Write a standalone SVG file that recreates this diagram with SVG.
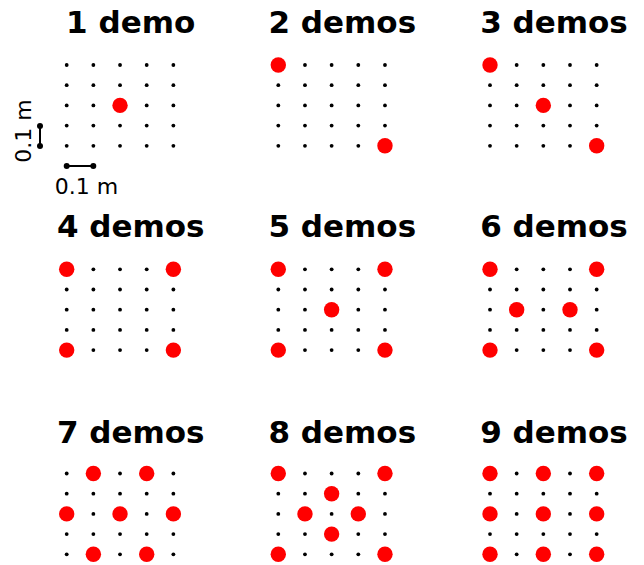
<svg xmlns="http://www.w3.org/2000/svg" xmlns:xlink="http://www.w3.org/1999/xlink" width="644" height="565" viewBox="0 0 644 565">
<style>
.t{font-family:"DejaVu Sans",sans-serif;font-weight:bold;font-size:31px;fill:#000;text-anchor:middle}
.l{font-family:"DejaVu Sans",sans-serif;font-size:22px;fill:#000;text-anchor:middle}
.d{fill:#000}
.r{fill:#ff0000}
.bar{stroke:#000;stroke-width:2;fill:none}
</style>
<defs>
<g id="grid" class="d">
<circle cx="0" cy="0" r="1.9"/><circle cx="26.67" cy="0" r="1.9"/><circle cx="53.33" cy="0" r="1.9"/><circle cx="80" cy="0" r="1.9"/><circle cx="106.67" cy="0" r="1.9"/>
<circle cx="0" cy="20.2" r="1.9"/><circle cx="26.67" cy="20.2" r="1.9"/><circle cx="53.33" cy="20.2" r="1.9"/><circle cx="80" cy="20.2" r="1.9"/><circle cx="106.67" cy="20.2" r="1.9"/>
<circle cx="0" cy="40.4" r="1.9"/><circle cx="26.67" cy="40.4" r="1.9"/><circle cx="53.33" cy="40.4" r="1.9"/><circle cx="80" cy="40.4" r="1.9"/><circle cx="106.67" cy="40.4" r="1.9"/>
<circle cx="0" cy="60.6" r="1.9"/><circle cx="26.67" cy="60.6" r="1.9"/><circle cx="53.33" cy="60.6" r="1.9"/><circle cx="80" cy="60.6" r="1.9"/><circle cx="106.67" cy="60.6" r="1.9"/>
<circle cx="0" cy="80.8" r="1.9"/><circle cx="26.67" cy="80.8" r="1.9"/><circle cx="53.33" cy="80.8" r="1.9"/><circle cx="80" cy="80.8" r="1.9"/><circle cx="106.67" cy="80.8" r="1.9"/>
</g>
<circle id="rd" class="r" r="7.7"/>
</defs>

<g id="panel1">
<text class="t" x="130.7" y="33">1 demo</text>
<g transform="translate(66.7,65)"><use xlink:href="#grid"/>
<use xlink:href="#rd" x="53.33" y="40.4"/>
</g>
</g>

<g id="scale">
<line class="bar" x1="40" y1="126" x2="40" y2="146"/>
<circle class="d" cx="40" cy="126" r="3"/><circle class="d" cx="40" cy="146" r="3"/>
<text class="l" transform="translate(31,131) rotate(-90)">0.1 m</text>
<line class="bar" x1="66.7" y1="166" x2="93.3" y2="166"/>
<circle class="d" cx="66.7" cy="166" r="3"/><circle class="d" cx="93.3" cy="166" r="3"/>
<text class="l" x="86.5" y="194">0.1 m</text>
</g>

<g id="panel2">
<text class="t" x="342.3" y="33">2 demos</text>
<g transform="translate(278.3,65)"><use xlink:href="#grid"/>
<use xlink:href="#rd" x="0" y="0"/><use xlink:href="#rd" x="106.67" y="80.8"/>
</g>
</g>

<g id="panel3">
<text class="t" x="554" y="33">3 demos</text>
<g transform="translate(490,65)"><use xlink:href="#grid"/>
<use xlink:href="#rd" x="0" y="0"/><use xlink:href="#rd" x="53.33" y="40.4"/><use xlink:href="#rd" x="106.67" y="80.8"/>
</g>
</g>

<g id="panel4">
<text class="t" x="130.7" y="237.3">4 demos</text>
<g transform="translate(66.7,269.3)"><use xlink:href="#grid"/>
<use xlink:href="#rd" x="0" y="0"/><use xlink:href="#rd" x="106.67" y="0"/><use xlink:href="#rd" x="0" y="80.8"/><use xlink:href="#rd" x="106.67" y="80.8"/>
</g>
</g>

<g id="panel5">
<text class="t" x="342.3" y="237.3">5 demos</text>
<g transform="translate(278.3,269.3)"><use xlink:href="#grid"/>
<use xlink:href="#rd" x="0" y="0"/><use xlink:href="#rd" x="106.67" y="0"/><use xlink:href="#rd" x="53.33" y="40.4"/><use xlink:href="#rd" x="0" y="80.8"/><use xlink:href="#rd" x="106.67" y="80.8"/>
</g>
</g>

<g id="panel6">
<text class="t" x="554" y="237.3">6 demos</text>
<g transform="translate(490,269.3)"><use xlink:href="#grid"/>
<use xlink:href="#rd" x="0" y="0"/><use xlink:href="#rd" x="106.67" y="0"/><use xlink:href="#rd" x="26.67" y="40.4"/><use xlink:href="#rd" x="80" y="40.4"/><use xlink:href="#rd" x="0" y="80.8"/><use xlink:href="#rd" x="106.67" y="80.8"/>
</g>
</g>

<g id="panel7">
<text class="t" x="130.7" y="442.5">7 demos</text>
<g transform="translate(66.7,473.5)"><use xlink:href="#grid"/>
<use xlink:href="#rd" x="26.67" y="0"/><use xlink:href="#rd" x="80" y="0"/><use xlink:href="#rd" x="0" y="40.4"/><use xlink:href="#rd" x="53.33" y="40.4"/><use xlink:href="#rd" x="106.67" y="40.4"/><use xlink:href="#rd" x="26.67" y="80.8"/><use xlink:href="#rd" x="80" y="80.8"/>
</g>
</g>

<g id="panel8">
<text class="t" x="342.3" y="442.5">8 demos</text>
<g transform="translate(278.3,473.5)"><use xlink:href="#grid"/>
<use xlink:href="#rd" x="0" y="0"/><use xlink:href="#rd" x="106.67" y="0"/><use xlink:href="#rd" x="53.33" y="20.2"/><use xlink:href="#rd" x="26.67" y="40.4"/><use xlink:href="#rd" x="80" y="40.4"/><use xlink:href="#rd" x="53.33" y="60.6"/><use xlink:href="#rd" x="0" y="80.8"/><use xlink:href="#rd" x="106.67" y="80.8"/>
</g>
</g>

<g id="panel9">
<text class="t" x="554" y="442.5">9 demos</text>
<g transform="translate(490,473.5)"><use xlink:href="#grid"/>
<use xlink:href="#rd" x="0" y="0"/><use xlink:href="#rd" x="53.33" y="0"/><use xlink:href="#rd" x="106.67" y="0"/><use xlink:href="#rd" x="0" y="40.4"/><use xlink:href="#rd" x="53.33" y="40.4"/><use xlink:href="#rd" x="106.67" y="40.4"/><use xlink:href="#rd" x="0" y="80.8"/><use xlink:href="#rd" x="53.33" y="80.8"/><use xlink:href="#rd" x="106.67" y="80.8"/>
</g>
</g>
</svg>
